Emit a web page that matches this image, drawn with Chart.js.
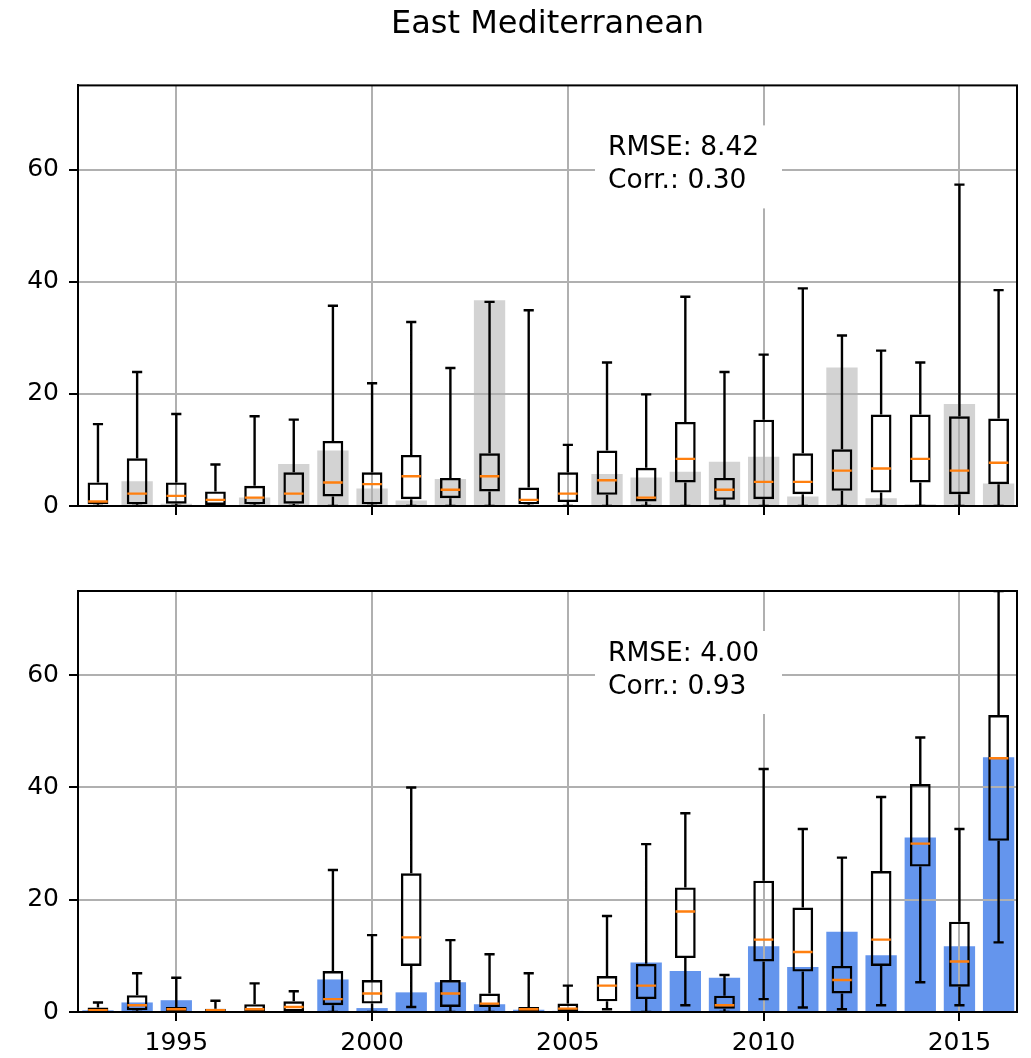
<!DOCTYPE html>
<html>
<head>
<meta charset="utf-8">
<title>East Mediterranean</title>
<script src="https://cdn.jsdelivr.net/npm/chart.js@4"></script>
<style>
  html, body { margin: 0; padding: 0; background: #fff; }
  #wrap { position: relative; width: 1031px; height: 1058px; }
  .panel { position: absolute; left: 0; width: 1031px; }
</style>
</head>
<body>
<div id="wrap">
  <div class="panel" style="top:0;height:540px"><canvas id="chartTop"></canvas></div>
  <div class="panel" style="top:545px;height:513px"><canvas id="chartBottom"></canvas></div>
</div>
<script>
const years = [1993, 1994, 1995, 1996, 1997, 1998, 1999, 2000, 2001, 2002, 2003, 2004,
               2005, 2006, 2007, 2008, 2009, 2010, 2011, 2012, 2013, 2014, 2015, 2016];
const xTicks = [1995, 2000, 2005, 2010, 2015];
const yTicks = [0, 20, 40, 60];
const title = 'East Mediterranean';

// верхняя панель: серые столбцы + ящики
const grayBars = [0, 4.4, 0.4, 0, 1.5, 7.5, 9.9, 3.1, 1.0, 4.8, 36.7, 0,
                  0.2, 5.7, 5.1, 6.1, 7.9, 8.8, 1.7, 24.7, 1.4, 0.3, 18.2, 4.0];
const topLo  = [0, 0, 0, 0, 0, 0, 0, 0, 0, 0, 0, 0, 0, 0, 0, 0, 0, 0, 0, 0, 0, 0, 0, 0];
const topQ1  = [0.3, 0.3, 0.4, 0.2, 0.3, 0.4, 1.7, 0.3, 1.2, 1.4, 2.6, 0.3,
                0.7, 2.0, 0.8, 4.2, 1.1, 1.2, 2.1, 2.7, 2.4, 4.2, 2.1, 3.9];
const topMed = [0.8, 2.2, 1.8, 1.1, 1.5, 2.2, 4.2, 3.9, 5.3, 2.9, 5.3, 1.1,
                2.2, 4.6, 1.5, 8.4, 2.9, 4.3, 4.3, 6.3, 6.7, 8.4, 6.3, 7.7];
const topQ3  = [4.2, 8.5, 4.2, 2.6, 3.6, 6.0, 11.6, 6.0, 9.1, 5.0, 9.4, 3.3,
                6.0, 9.9, 6.8, 15.0, 5.0, 15.4, 9.4, 10.1, 16.3, 16.3, 16.0, 15.6];
const topHi  = [14.6, 23.9, 16.4, 7.4, 16.0, 15.4, 35.7, 21.9, 32.8, 24.6, 36.4, 34.9,
                10.9, 25.6, 19.9, 37.3, 23.9, 27.0, 38.8, 30.4, 27.7, 25.6, 57.3, 38.5];
const topStats = ['RMSE: 8.42', 'Corr.: 0.30'];

// нижняя панель: синие столбцы + ящики
const blueBars = [0.3, 1.7, 2.1, 0.2, 0.2, 0.1, 5.8, 0.7, 3.5, 5.3, 1.4, 0.4,
                  0.2, 0, 8.8, 7.3, 6.1, 11.7, 8.0, 14.3, 10.1, 31.1, 11.7, 45.4];
const botLo  = [0, 0, 0, 0, 0, 0, 0, 0, 0.9, 0, 0, 0,
                0, 0.5, 0, 1.2, 0, 2.3, 0.8, 0.5, 1.2, 5.3, 1.2, 12.4];
const botQ1  = [0.1, 0.3, 0.2, 0.1, 0.1, 0.1, 1.2, 1.5, 8.2, 0.9, 0.9, 0.2,
                0.2, 1.9, 2.3, 9.6, 0.6, 9.0, 7.2, 3.3, 8.2, 25.9, 4.5, 30.5];
const botMed = [0.3, 1.2, 0.5, 0.3, 0.5, 0.9, 2.3, 3.3, 13.3, 3.3, 1.5, 0.5,
                0.6, 4.7, 4.7, 17.9, 1.2, 12.9, 10.7, 5.7, 12.9, 30.0, 9.0, 45.2];
const botQ3  = [0.8, 3.0, 0.9, 0.6, 1.4, 1.9, 7.3, 5.7, 24.7, 5.7, 3.3, 0.9,
                1.5, 6.4, 8.6, 22.2, 2.9, 23.4, 18.6, 8.2, 25.1, 40.6, 16.1, 52.9];
const botHi  = [1.7, 6.9, 6.1, 2.0, 5.1, 3.7, 25.3, 13.7, 40.0, 12.8, 10.3, 6.9,
                4.7, 17.1, 29.9, 35.4, 6.6, 43.3, 32.6, 27.5, 38.3, 48.9, 32.6, 75];
const botStats = ['RMSE: 4.00', 'Corr.: 0.93'];

Chart.defaults.font.family = 'DejaVu Sans';
Chart.defaults.color = '#000';

// вертикальные отрезки (усы) с разрывами
function vSegs(lo, hi) {
    const pts = [];
    years.forEach((yr, i) => {
        pts.push({x: yr, y: lo[i]}, {x: yr, y: hi[i]}, {x: yr, y: null});
    });
    return pts;
}

// горизонтальные отрезки (медианы, засечки)
function hSegs(vals, half) {
    const pts = [];
    years.forEach((yr, i) => {
        pts.push({x: yr - half, y: vals[i]}, {x: yr + half, y: vals[i]}, {x: yr, y: null});
    });
    return pts;
}

function lineSet(data, color, order) {
    return {
        type: 'line', data: data, borderColor: color, borderWidth: 2.4,
        pointRadius: 0, fill: false, tension: 0, spanGaps: false, order: order
    };
}

function panelPlugin(stats) {
    return {
        id: 'panelDecor',
        afterDatasetDraw(chart, args) {
            // сетка поверх столбцов, как в matplotlib
            if (args.index === 0) {
                chart.scales.x.drawGrid(chart.chartArea);
                chart.scales.y.drawGrid(chart.chartArea);
            }
        },
        afterDatasetsDraw(chart) {
            const ca = chart.chartArea;
            const ctx = chart.ctx;
            ctx.save();
            ctx.fillStyle = '#fff';
            ctx.fillRect(ca.left + 517, ca.top + 40, 187, 83);
            ctx.fillStyle = '#000';
            ctx.font = '26.5px "DejaVu Sans"';
            ctx.textAlign = 'left';
            ctx.textBaseline = 'middle';
            stats.forEach((s, i) => ctx.fillText(s, ca.left + 530, ca.top + 63 + i * 33));
            ctx.restore();
        },
        afterDraw(chart) {
            const ca = chart.chartArea;
            const ctx = chart.ctx;
            ctx.save();
            ctx.strokeStyle = '#000';
            ctx.lineWidth = 2;
            ctx.strokeRect(ca.left, ca.top, ca.right - ca.left, ca.bottom - ca.top);
            ctx.restore();
        }
    };
}

function makePanel(canvasId, bars, barColor, lo, q1, med, q3, hi, stats, opts) {
    const gridOpts = {color: '#b0b0b0', lineWidth: 2, tickColor: '#000', tickWidth: 2, tickLength: 9, offset: false};
    return new Chart(document.getElementById(canvasId), {
        type: 'bar',
        data: {
            datasets: [
                {
                    data: years.map((yr, i) => ({x: yr, y: bars[i]})),
                    backgroundColor: barColor, borderWidth: 0,
                    barPercentage: 0.8, categoryPercentage: 1, grouped: false, order: 5
                },
                {
                    data: years.map((yr, i) => ({x: yr, y: [q1[i], q3[i]]})),
                    backgroundColor: 'rgba(0,0,0,0)', borderColor: '#000', borderWidth: 2.4,
                    borderSkipped: false, barPercentage: 0.53, categoryPercentage: 1,
                    grouped: false, order: 3
                },
                lineSet(vSegs(lo, q1).concat(vSegs(q3, hi)), '#000', 2),
                lineSet(hSegs(lo, 0.13).concat(hSegs(hi, 0.13)), '#000', 2),
                lineSet(hSegs(med, 0.25), '#ff7f0e', 1)
            ]
        },
        options: {
            responsive: true,
            maintainAspectRatio: false,
            animation: false,
            layout: {padding: {left: 0, right: 14, top: opts.padTop, bottom: 0}},
            plugins: {
                legend: {display: false},
                tooltip: {enabled: false},
                title: {
                    display: opts.showTitle,
                    text: title,
                    fullSize: false,
                    font: {size: 32, weight: 'normal'},
                    color: '#000',
                    padding: {top: 5, bottom: 42}
                }
            },
            scales: {
                x: {
                    type: 'linear', min: 1992.49, max: 2016.47, offset: false,
                    afterBuildTicks: s => { s.ticks = xTicks.map(v => ({value: v})); },
                    afterFit: s => { s.height = opts.xHeight; },
                    grid: gridOpts,
                    border: {color: '#000', width: 2},
                    ticks: {display: opts.showX, font: {size: 25}, color: '#000', padding: 7,
                            maxRotation: 0, callback: v => String(v)}
                },
                y: {
                    min: 0, max: 75,
                    afterBuildTicks: s => { s.ticks = yTicks.map(v => ({value: v})); },
                    afterFit: s => { s.width = 78; },
                    grid: gridOpts,
                    border: {color: '#000', width: 2},
                    ticks: {font: {size: 25}, color: '#000', padding: 10}
                }
            }
        },
        plugins: [panelPlugin(stats)]
    });
}

makePanel('chartTop', grayBars, '#d3d3d3', topLo, topQ1, topMed, topQ3, topHi, topStats,
          {showTitle: true, showX: false, xHeight: 34, padTop: 0});
makePanel('chartBottom', blueBars, '#6495ed', botLo, botQ1, botMed, botQ3, botHi, botStats,
          {showTitle: false, showX: true, xHeight: 46, padTop: 46});
</script>
</body>
</html>
